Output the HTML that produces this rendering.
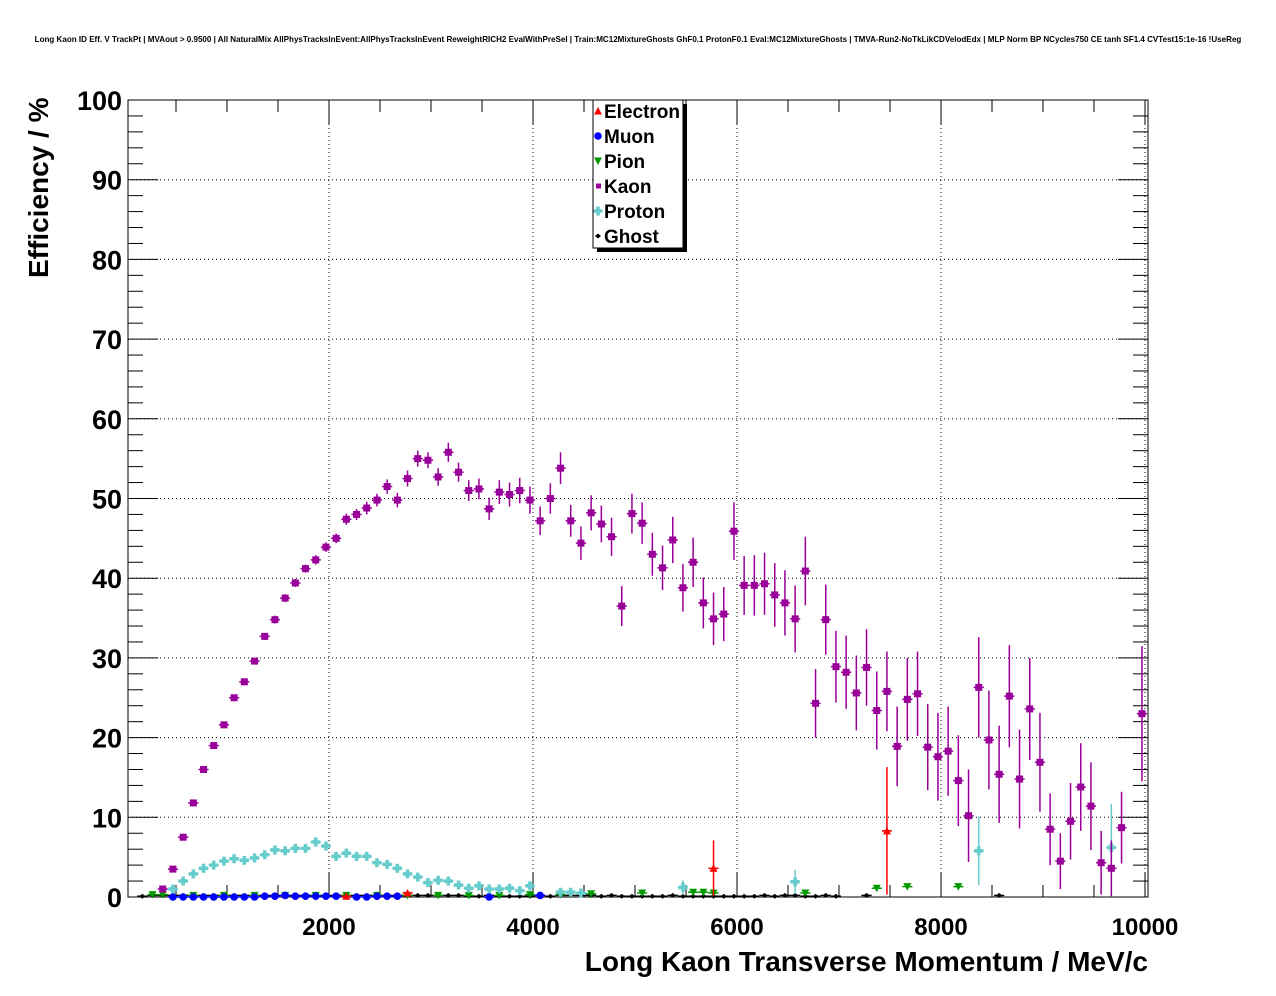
<!DOCTYPE html>
<html><head><meta charset="utf-8"><style>
body{margin:0;background:#fff;}
svg{display:block;font-family:"Liberation Sans",sans-serif;}
</style></head><body>
<svg id="c" width="1276" height="996" xmlns="http://www.w3.org/2000/svg">
<text x="638" y="42" font-size="8.05" font-weight="bold" text-anchor="middle">Long Kaon ID Eff. V TrackPt | MVAout &gt; 0.9500 | All NaturalMix AllPhysTracksInEvent:AllPhysTracksInEvent ReweightRICH2 EvalWithPreSel | Train:MC12MixtureGhosts GhF0.1 ProtonF0.1 Eval:MC12MixtureGhosts | TMVA-Run2-NoTkLikCDVelodEdx | MLP Norm BP NCycles750 CE tanh SF1.4 CVTest15:1e-16 !UseReg</text>
<rect x="128" y="100" width="1020" height="797" fill="none" stroke="#000" stroke-width="1"/>
<g id="grid"></g>
<g id="axes"></g>
<g id="marks"></g>
<text transform="translate(48,278) rotate(-90)" font-size="28" font-weight="bold">Efficiency / %</text>
<text x="1148" y="971" font-size="28" font-weight="bold" text-anchor="end">Long Kaon Transverse Momentum / MeV/c</text>
<g>
<rect x="597" y="104" width="90" height="148" fill="#000"/>
<rect x="593" y="100" width="90" height="148" fill="#fff" stroke="#000"/>
<g id="leg"></g>
</g>
</svg>
<script>
const binStart=170, binWidth=100;
const xTicks=[2000,4000,6000,8000,10000];
const yTicks=[0,10,20,30,40,50,60,70,80,90,100];
const kaonVals=[null,null,1,3.5,7.5,11.8,16,19,21.6,25,27,29.6,32.7,34.8,37.5,39.4,41.2,42.3,43.9,45,47.4,48,48.8,49.8,51.5,49.8,52.5,55,54.8,52.7,55.8,53.3,51,51.2,48.7,50.8,50.5,51,49.8,47.2,50,53.8,47.2,44.4,48.2,46.8,45.2,36.5,48.1,46.9,43,41.3,44.8,38.8,42,36.9,34.9,35.5,45.9,39.1,39.1,39.3,37.9,36.9,34.9,40.9,24.3,34.8,28.9,28.2,25.6,28.8,23.4,25.8,18.9,24.8,25.5,18.8,17.6,18.3,14.6,10.2,26.3,19.7,15.4,25.2,14.8,23.6,16.9,8.5,4.5,9.5,13.8,11.4,4.3,3.6,8.7,null,23];
const kaonErr=[0,0,0.2,0.3,0.3,0.3,0.3,0.3,0.3,0.4,0.4,0.4,0.4,0.5,0.5,0.5,0.5,0.6,0.6,0.6,0.7,0.7,0.8,0.8,0.9,0.9,1,1,1,1.1,1.2,1.2,1.3,1.3,1.4,1.5,1.5,1.6,1.7,1.8,1.9,2,2,2.1,2.2,2.3,2.4,2.5,2.5,2.6,2.7,2.8,2.9,3,3.1,3.2,3.3,3.4,3.6,3.7,3.8,3.9,4,4.1,4.2,4.3,4.3,4.4,4.5,4.6,4.7,4.8,4.9,5,5,5.2,5.3,5.4,5.5,5.6,5.7,5.8,6.3,6.2,6.1,6.4,6.2,6.4,6.2,4.5,3.5,4.8,5.5,5.5,4,3.5,4.5,0,8.5];
const protonBins=[3,4,5,6,7,8,9,10,11,12,13,14,15,16,17,18,19,20,21,22,23,24,25,26,27,28,29,30,31,32,33,34,35,36,37,38,41,42,43,53,64,82,95];
const protonVals=[1.0,2.0,2.9,3.6,4.0,4.5,4.8,4.6,4.9,5.3,5.9,5.8,6.1,6.1,6.9,6.4,5.1,5.5,5.1,5.1,4.3,4.1,3.6,2.9,2.5,1.8,2.1,2.0,1.5,1.1,1.4,1.0,1.0,1.1,0.8,1.4,0.6,0.6,0.5,1.2,1.9,5.8,6.2];
const protonErr=[0.2,0.2,0.2,0.2,0.2,0.2,0.2,0.2,0.2,0.3,0.3,0.3,0.3,0.3,0.3,0.3,0.3,0.3,0.3,0.3,0.3,0.3,0.3,0.3,0.3,0.3,0.3,0.3,0.3,0.3,0.3,0.3,0.3,0.3,0.3,0.3,0.3,0.3,0.3,0.9,1.5,4.3,5.5];
const electronBins=[20,26,56,73];
const electronVals=[0.1,0.5,3.6,8.3];
const electronErr=[0.1,0.3,3.5,8];
const pionBins=[1,2,5,8,11,14,17,20,23,26,29,32,35,38,41,44,49,54,55,56,65,72,75,80];
const pionVals=[0.3,0.3,0.2,0.2,0.2,0.2,0.2,0.2,0.2,0.2,0.2,0.2,0.2,0.3,0.3,0.4,0.5,0.6,0.6,0.5,0.5,1.1,1.3,1.3];
const muonBins=[3,4,5,6,7,8,9,10,11,12,13,14,15,16,17,18,19,21,22,23,24,25,34,39];
const muonVals=[0,0,0,0,0,0,0,0,0,0.1,0.1,0.2,0.1,0.1,0.1,0.1,0.1,0,0,0.1,0.1,0.1,0,0.2];
const ghostBins=[0,1,2,3,4,5,6,7,8,9,10,11,12,13,14,15,16,17,18,19,20,21,22,23,24,25,26,27,28,29,30,31,32,33,34,35,36,37,38,39,40,41,42,43,44,45,46,47,48,49,50,51,52,53,54,55,56,57,58,59,60,61,62,63,64,65,66,67,68,71,84];
const ghostVals=[0.1,0.2,0.2,0.2,0.2,0.2,0.2,0.2,0.2,0.2,0.2,0.2,0.2,0.2,0.2,0.2,0.2,0.2,0.2,0.2,0.2,0.2,0.2,0.2,0.2,0.2,0.2,0.2,0.2,0.2,0.2,0.2,0.1,0.1,0.2,0.1,0.1,0.1,0.1,0.2,0.1,0.2,0.2,0.2,0.2,0.1,0.2,0.1,0.1,0.1,0.1,0.1,0.2,0.1,0.1,0.1,0.1,0.1,0.1,0.1,0.1,0.2,0.1,0.2,0.2,0.1,0.1,0.2,0.1,0.2,0.2];

const NS="http://www.w3.org/2000/svg";
const X=v=>125+v*0.102;
const Y=v=>897-v*7.97;
const binX=i=>binStart+binWidth*i;
function mk(tag,attrs,parent){const e=document.createElementNS(NS,tag);for(const k in attrs)e.setAttribute(k,attrs[k]);parent.appendChild(e);return e;}
const grid=document.getElementById('grid'),axes=document.getElementById('axes'),marks=document.getElementById('marks');
xTicks.forEach(t=>{
  const l=mk('line',{x1:X(t),x2:X(t),y1:100,y2:897,stroke:'#000','stroke-dasharray':'1,3'},grid);
  
  
  const tx=mk('text',{x:X(t),y:935,'font-size':24,'font-weight':'bold','text-anchor':'middle'},axes);
  tx.textContent=t;
  
  
});
for(let t=500;t<=10000;t+=500){
  const len=(t%2000===0)?24:12;
  mk('line',{x1:X(t),x2:X(t),y1:897,y2:897-len,stroke:'#000'},axes);
  mk('line',{x1:X(t),x2:X(t),y1:100,y2:100+len,stroke:'#000'},axes);
}
yTicks.forEach(t=>{
  if(t>0&&t<100){const l=mk('line',{x1:128,x2:1148,y1:Y(t),y2:Y(t),stroke:'#000','stroke-dasharray':'1,3'},grid);
  
  }
  const tx=mk('text',{x:122,y:Y(t)+10,'font-size':27,'font-weight':'bold','text-anchor':'end'},axes);
  tx.textContent=t;
  
  
});
for(let t=0;t<=100;t+=2){
  const len=(t%10===0)?30:15;
  mk('line',{x1:128,x2:128+len,y1:Y(t),y2:Y(t),stroke:'#000'},axes);
  mk('line',{x1:1148,x2:1148-len,y1:Y(t),y2:Y(t),stroke:'#000'},axes);
}
function marker(type,cx,cy,col,g){
  if(type==='sq')return mk('rect',{x:cx-3.5,y:cy-3.5,width:7,height:7,fill:col},g);
  if(type==='circ')return mk('circle',{cx:cx,cy:cy,r:3.8,fill:col},g);
  if(type==='tup')return mk('polygon',{points:`${cx-4},${cy+3.5} ${cx+4},${cy+3.5} ${cx},${cy-4}`,fill:col},g);
  if(type==='tdn')return mk('polygon',{points:`${cx-4},${cy-3.5} ${cx+4},${cy-3.5} ${cx},${cy+4}`,fill:col},g);
  if(type==='cross')return mk('path',{d:`M${cx-4.5},${cy-1.8}h2.7v-2.7h3.6v2.7h2.7v3.6h-2.7v2.7h-3.6v-2.7h-2.7z`,fill:col},g);
  if(type==='dia')return mk('polygon',{points:`${cx-3},${cy} ${cx},${cy-2.5} ${cx+3},${cy} ${cx},${cy+2.5}`,fill:col},g);
}
function series(name,bins,vals,errs,type,col){
  const g=mk('g',{},marks);
  
  
  vals.forEach((v,i)=>{
    if(v===null)return;
    const b=bins?bins[i]:i;
    const cx=X(binX(b)),cy=Y(v),e=errs?errs[i]:0;
    mk('line',{x1:X(binX(b)-binWidth/2),x2:X(binX(b)+binWidth/2),y1:cy,y2:cy,stroke:col,'stroke-width':1.5},g);
    if(e>0.3)mk('line',{x1:cx,x2:cx,y1:Y(Math.max(0,v-e)),y2:Y(v+e),stroke:col,'stroke-width':1.5},g);
    const m=marker(type,cx,cy,col,g);
    
    
  });
}
series('ghost',ghostBins,ghostVals,null,'dia','#000');
series('pion',pionBins,pionVals,null,'tdn','#009900');
series('muon',muonBins,muonVals,null,'circ','#0000ff');
series('proton',protonBins,protonVals,protonErr,'cross','#66cccc');
series('electron',electronBins,electronVals,electronErr,'tup','#ff0000');
series('kaon',null,kaonVals,kaonErr,'sq','#990099');
const legItems=[['Electron','tup','#ff0000'],['Muon','circ','#0000ff'],['Pion','tdn','#009900'],['Kaon','sq','#990099'],['Proton','cross','#66cccc'],['Ghost','dia','#000']];
const leg=document.getElementById('leg');
legItems.forEach((it,i)=>{
  const g=mk('g',{},leg);
  
  
  const cy=111+i*25;
  const m=marker(it[1],598,cy,it[2],g);
  if(it[1]==='sq'){m.setAttribute('width',5);m.setAttribute('height',5);m.setAttribute('x',596);m.setAttribute('y',cy-2.5);}
  const t=mk('text',{x:604,y:cy+7,'font-size':19,'font-weight':'bold'},g);
  t.textContent=it[0];
});
</script>
</body></html>
